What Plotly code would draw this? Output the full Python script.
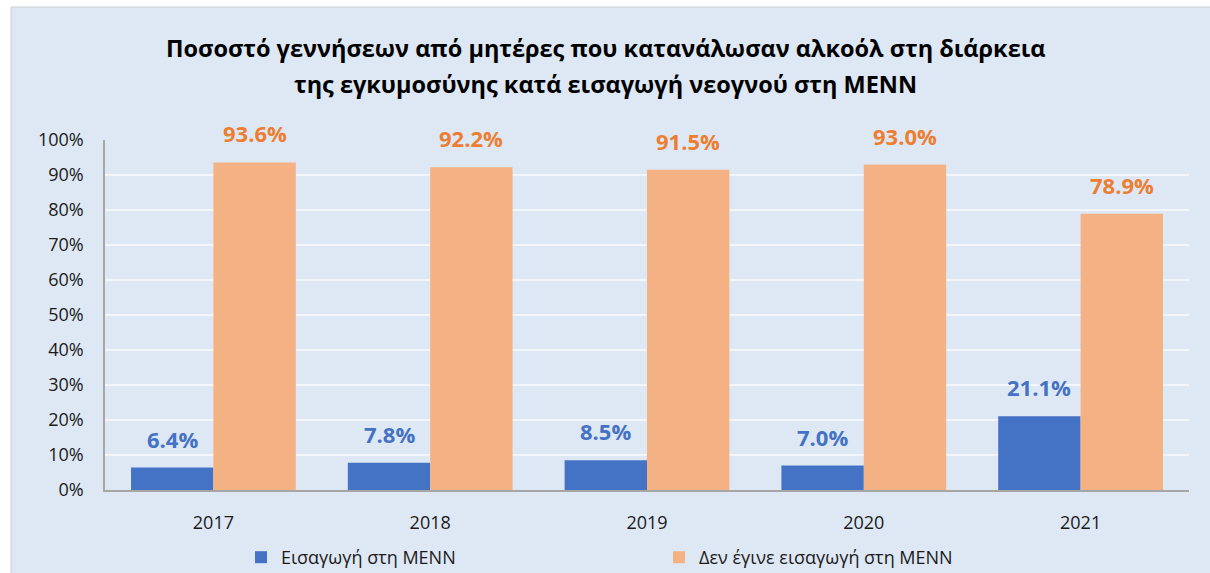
import plotly.graph_objects as go

years = ["2017", "2018", "2019", "2020", "2021"]
admitted = [6.4, 7.8, 8.5, 7.0, 21.1]
not_admitted = [93.6, 92.2, 91.5, 93.0, 78.9]
series_names = ["Εισαγωγή στη ΜΕΝΝ", "Δεν έγινε εισαγωγή στη ΜΕΝΝ"]
title_lines = ["Ποσοστό γεννήσεων από μητέρες που κατανάλωσαν αλκοόλ στη διάρκεια",
               "της εγκυμοσύνης κατά εισαγωγή νεογνού στη ΜΕΝΝ"]

BLUE = "#4472c4"
ORANGE = "#f4b183"
ORANGE_TXT = "#ed7d31"
PANEL = "#dee8f4"
FONT = "Open Sans"

W, H = 1210, 573
ML, MR, MT, MB = 105, 21, 140, 83
PW = W - ML - MR
PH = H - MT - MB
BARGAP = 0.24


def px_x(p):
    return (p - ML) / PW


def px_y(p):
    return (H - MB - p) / PH


fig = go.Figure()
fig.add_bar(x=years, y=admitted, name=series_names[0], marker_color=BLUE,
            marker_line_width=0, hoverinfo="skip")
fig.add_bar(x=years, y=not_admitted, name=series_names[1], marker_color=ORANGE,
            marker_line_width=0, hoverinfo="skip")

cat_w = PW / len(years)
bar_w = cat_w * (1 - BARGAP) / 2
annotations = []
for i, (a, b) in enumerate(zip(admitted, not_admitted)):
    annotations.append(dict(x=i, y=a, xref="x", yref="y", text=f"<b>{a:.1f}%</b>",
                            showarrow=False, xshift=-bar_w / 2, yshift=29,
                            font=dict(family=FONT, size=22, color=BLUE)))
    annotations.append(dict(x=i, y=b, xref="x", yref="y", text=f"<b>{b:.1f}%</b>",
                            showarrow=False, xshift=bar_w / 2, yshift=29,
                            font=dict(family=FONT, size=22, color=ORANGE_TXT)))

for line, ypx in zip(title_lines, [48, 84]):
    annotations.append(dict(x=px_x(605), y=px_y(ypx), xref="paper", yref="paper",
                            text=f"<b>{line}</b>", showarrow=False,
                            xanchor="center", yanchor="middle",
                            font=dict(family=FONT, size=23.5, color="#000000")))

shapes = [dict(type="rect", xref="paper", yref="paper", layer="below",
               x0=px_x(11), x1=px_x(1215), y0=px_y(578), y1=px_y(7),
               fillcolor=PANEL, line=dict(color="#d0d0d0", width=1))]

fig.update_layout(
    width=W, height=H,
    margin=dict(l=ML, r=MR, t=MT, b=MB, autoexpand=False),
    paper_bgcolor="white",
    plot_bgcolor="rgba(0,0,0,0)",
    barmode="group", bargap=BARGAP, bargroupgap=0,
    font=dict(family=FONT, size=18, color="#1a1a1a"),
    xaxis=dict(type="category", range=[-0.5, len(years) - 0.5], showgrid=False,
               showline=True, linecolor="#a6a6a6",
               linewidth=1.5, ticks="", tickfont=dict(size=18, color="#1a1a1a"),
               ticklabelstandoff=16, automargin=False),
    yaxis=dict(range=[0, 100], dtick=10, ticksuffix="%", showgrid=True,
               gridcolor="#f2f6fb", gridwidth=1.5, showline=True,
               linecolor="#a6a6a6", linewidth=1.5, zeroline=False,
               ticks="", tickfont=dict(size=18, color="#1a1a1a"),
               ticklabelstandoff=16, automargin=False),
    legend=dict(orientation="h", x=px_x(241), xanchor="left",
                y=px_y(539), yanchor="top", entrywidth=373, entrywidthmode="pixels",
                bgcolor="rgba(0,0,0,0)", font=dict(size=18, color="#1a1a1a")),
    annotations=annotations,
    shapes=shapes,
    showlegend=True,
)

fig.write_html("out.html", config={"displayModeBar": False},
               post_script="document.body.style.margin='0';document.body.style.overflow='hidden';")
